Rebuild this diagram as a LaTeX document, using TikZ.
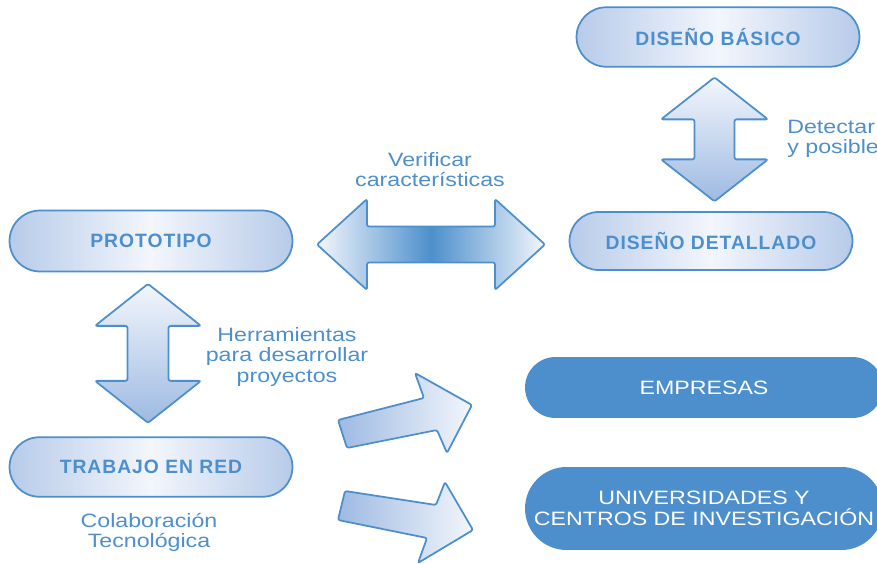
\documentclass[tikz,border=0pt]{standalone}
\usepackage{fontspec}
\setmainfont{Liberation Sans}[FakeStretch=1.2]
\newfontfamily\pillfont{Liberation Sans}[LetterSpace=5]
\usetikzlibrary{calc,shapes.misc}
\definecolor{mainblue}{HTML}{4D8FCC}
\definecolor{pillblue}{HTML}{B7CBE9}
\definecolor{paleblue}{HTML}{F3F6FC}
\definecolor{arrowblue}{HTML}{9DBAE2}
% double block arrows: half length, head length, head half width, shaft half width
\newcommand{\hDoubleArrow}[4]{
	(-#1,0) -- ({-#1+#2},-#3) -- ({-#1+#2},-#4) -- ({#1-#2},-#4) -- ({#1-#2},-#3) -- (#1,0)
	-- ({#1-#2},#3) -- ({#1-#2},#4) -- ({-#1+#2},#4) -- ({-#1+#2},#3) -- cycle
}
\newcommand{\vDoubleArrow}[4]{
	(0,-#1) -- (-#3,{-#1+#2}) -- (-#4,{-#1+#2}) -- (-#4,{#1-#2}) -- (-#3,{#1-#2}) -- (0,#1)
	-- (#3,{#1-#2}) -- (#4,{#1-#2}) -- (#4,{-#1+#2}) -- (#3,{-#1+#2}) -- cycle
}
\tikzset{
	pill/.style={rounded rectangle, draw=mainblue, line width=1pt,
		left color=pillblue, right color=pillblue, middle color=paleblue,
		minimum width=5.66cm, minimum height=1.19cm, inner sep=0pt,
		font=\pillfont\fontsize{11}{12}\selectfont\bfseries, text=mainblue},
	solidpill/.style={rounded rectangle, fill=mainblue, minimum width=7.16cm,
		inner sep=0pt, text=white, align=center, font=\fontsize{11}{11.6}\selectfont},
	note/.style={text=mainblue, align=center, inner sep=0pt, font=\fontsize{11}{11.4}\selectfont},
	blockarrow/.style={draw=mainblue, line width=1pt, rounded corners=1.2pt, line join=round},
}

\begin{document}
\begin{tikzpicture}[x=0.02cm, y=-0.02cm]
	\clip (0,0) rectangle (877,564);

	% design chain
	\node[pill] (basico) at (718,37) {DISEÑO BÁSICO};
	\node[pill, minimum height=1.16cm] (detallado) at (711,241) {DISEÑO DETALLADO};
	\node[pill, minimum height=1.22cm] (prototipo) at (151,241) {PROTOTIPO};
	\node[pill] (trabajo) at (151,467) {TRABAJO EN RED};

	% targets
	\node[solidpill, minimum height=1.22cm] (empresas) at (704,387.5) {EMPRESAS};
	\node[solidpill, minimum height=1.66cm] (universidades) at (704,508.5) {UNIVERSIDADES Y\\CENTROS DE INVESTIGACIÓN};

	% block arrows between the boxes
	\begin{scope}[shift={($(basico.south)!.5!(detallado.north)$)}]
		\draw[blockarrow, top color=paleblue, bottom color=arrowblue] \vDoubleArrow{62}{42}{53.5}{20};
	\end{scope}
	\begin{scope}[shift={($(prototipo.south)!.5!(trabajo.north)+(-3,-1)$)}]
		\draw[blockarrow, top color=paleblue, bottom color=arrowblue] \vDoubleArrow{69.5}{42}{53}{20.5};
	\end{scope}
	\begin{scope}[shift={($(prototipo.east)!.5!(detallado.west)+(0,3.5)$)}]
		\draw[blockarrow, left color=paleblue, right color=paleblue, middle color=mainblue] \hDoubleArrow{114}{50}{45.5}{18};
	\end{scope}

	\draw[blockarrow, left color=arrowblue, right color=paleblue]
		(338,420) -- (424,398) -- (415,373) -- (472,405) -- (447,453) -- (437,430) -- (347,448) -- cycle;
	\draw[blockarrow, left color=arrowblue, right color=paleblue]
		(345,491) -- (436,505) -- (445,482) -- (473,530) -- (418,563) -- (427,538) -- (338,520) -- cycle;

	% labels
	\node[note] (verificar) at (430,170) {Verificar\\características};
	\node[note, anchor=west, align=left] (detectar) at (787,139) {Detectar\\y posible};
	\node[note] (herramientas) at (287,357) {Herramientas\\para desarrollar\\proyectos};
	\node[note] (colaboracion) at (149,532) {Colaboración\\Tecnológica};
\end{tikzpicture}
\end{document}
